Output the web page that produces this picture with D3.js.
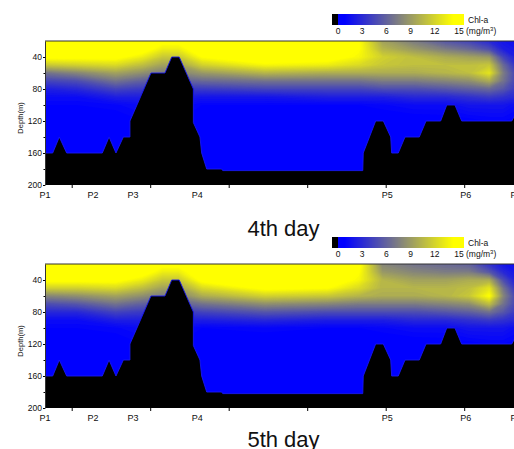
<!DOCTYPE html>
<html lang="en">
    <head>
        <meta charset="utf-8" />
        <title>Chl-a sections</title>
        <script src="https://d3js.org/d3.v7.min.js"></script>
        <style>
            body { margin: 0; background: #fff; }
            svg { display: block; font-family: "Liberation Sans", Arial, sans-serif; }
        </style>
    </head>
    <body>
        <div id="container"></div>
        <script>
            // grid columns (distance along section, km) and rows (depth, m)
            const distKm = [0, 20, 45, 62, 75, 85, 100, 140, 180, 200, 215, 235, 255, 270, 283, 292, 300];
            const depthM = [20, 30, 40, 50, 60, 70, 80, 90, 100, 120, 160, 200];

            // Chl-a (mg/m3), one row per depth
            const chlDay4 = [
                [16, 16, 16, 16, 15, 15, 16, 16, 16, 14.5, 9.5, 7.5, 5.5, 4.5, 3, 2, 1.5],
                [16, 16, 16, 15.5, 13.5, 13.5, 16, 16, 16, 14.5, 10.5, 9, 7.5, 6.5, 5, 2.5, 2],
                [15, 15, 15, 13.5, 11.5, 11.5, 14.5, 16, 15.5, 14, 12, 11, 10, 9.5, 9, 4.5, 2.5],
                [11.5, 12, 12.5, 11, 9.5, 9.5, 12, 14, 13.5, 12.5, 11.5, 11, 11, 11, 11.5, 6.5, 3.5],
                [7, 8, 9.5, 8.5, 7.5, 8, 9, 10.5, 10, 10, 10, 10, 10.5, 11, 13, 7.5, 4.5],
                [4.5, 5, 7, 6, 5.5, 6, 6.5, 7, 7, 7, 7.5, 7.5, 8, 8.5, 10, 7, 4.5],
                [2.5, 3, 4.5, 4, 4, 4, 4, 4.5, 4.5, 4.5, 5, 5, 5.5, 6, 6.5, 5.5, 4],
                [1.5, 1.5, 2.5, 2.5, 2.5, 2.5, 2, 2, 2.5, 2.5, 2.5, 3, 3, 3.5, 4, 3.5, 3],
                [1, 1, 1.2, 1.5, 1.5, 1.5, 1, 1, 1, 1, 1.2, 1.5, 1.5, 2, 2, 2, 1.5],
                [0.5, 0.5, 0.6, 1, 1, 1, 0.5, 0.5, 0.5, 0.5, 0.5, 0.6, 0.7, 0.8, 1, 1, 0.8],
                [0.5, 0.5, 0.5, 0.5, 0.5, 0.5, 0.5, 0.5, 0.5, 0.5, 0.5, 0.5, 0.5, 0.5, 0.5, 0.5, 0.5],
                [0.5, 0.5, 0.5, 0.5, 0.5, 0.5, 0.5, 0.5, 0.5, 0.5, 0.5, 0.5, 0.5, 0.5, 0.5, 0.5, 0.5]
            ];

            const chlDay5 = [
                [16, 16, 16, 16, 15, 15, 16, 16, 16, 15, 8, 7, 6.5, 6, 3.5, 2, 1.5],
                [16, 16, 16, 15.5, 13.5, 13.5, 16, 16, 16, 14.5, 9, 8, 7.5, 7.5, 5.5, 3, 2],
                [15, 15, 15, 13.5, 11.5, 11.5, 15, 16, 16, 14, 10.5, 9.5, 9.5, 10, 10, 5, 2.5],
                [12, 12, 12.5, 11, 9.5, 9.5, 12.5, 15, 14.5, 12.5, 10.5, 10.5, 10.5, 11, 13, 7, 3.5],
                [8, 8.5, 9.5, 8.5, 7.5, 8, 10, 12, 11.5, 10.5, 10, 10, 10.5, 11.5, 14.5, 8, 4.5],
                [5, 5.5, 7, 6, 5.5, 6, 7, 8.5, 8, 7.5, 7.5, 7.5, 8, 8.5, 11, 7, 4.5],
                [3, 3, 4.5, 4, 4, 4, 4.5, 5.5, 5, 5, 5, 5, 5.5, 6, 7, 5.5, 4],
                [1.5, 1.5, 2.5, 2.5, 2.5, 2.5, 2.5, 3, 2.5, 2.5, 2.5, 3, 3, 3.5, 4, 3.5, 3],
                [1, 1, 1.2, 1.5, 1.5, 1.5, 1, 1.2, 1, 1, 1.2, 1.5, 1.5, 2, 2, 2, 1.5],
                [0.5, 0.5, 0.6, 1, 1, 1, 0.5, 0.5, 0.5, 0.5, 0.5, 0.6, 0.7, 0.8, 1, 1, 0.8],
                [0.5, 0.5, 0.5, 0.5, 0.5, 0.5, 0.5, 0.5, 0.5, 0.5, 0.5, 0.5, 0.5, 0.5, 0.5, 0.5, 0.5],
                [0.5, 0.5, 0.5, 0.5, 0.5, 0.5, 0.5, 0.5, 0.5, 0.5, 0.5, 0.5, 0.5, 0.5, 0.5, 0.5, 0.5]
            ];

            // bottom topography along the section
            const floorKm = [0, 4.9, 9.1, 13.8, 36.5, 40.8, 45.2, 49.9, 54.1, 54.1, 67.5, 76.4, 80.7, 85.5, 94.5, 94.5, 98.7, 99.8, 103, 112.5, 113.2,
                             202.4, 202.7, 210.6, 215.5, 220.2, 220.8, 225, 229.3, 238.4, 242.7, 252, 255.9, 261.1, 265.4, 297.3, 300];
            const floorDepth = [160, 160, 140, 160, 160, 140, 160, 140, 140, 120, 60, 60, 40, 40, 80, 122, 140, 160, 180, 180, 182,
                                182, 160, 120, 120, 140, 160, 160, 140, 140, 120, 120, 100, 100, 120, 120, 110];

            const stations = ['P1', 'P2', 'P3', 'P4', 'P5', 'P6', 'P7'];
            const stationKm = [0, 30.5, 56, 97, 218, 268, 300];
            const distTicks = [17, 67, 117, 167, 217, 267];
            const depthTicks = [40, 80, 120, 160, 200];
            const depthMinor = [60, 100, 140, 180];
            const barTicks = [0, 3, 6, 9, 12, 15];

            const width = 514;
            const height = 449;

            const svg = d3.select('#container')
                          .append('svg')
                          .attr('width', width)
                          .attr('height', height);

            const x = d3.scaleLinear().domain([0, 300]).range([45, 516]);

            const blueYellow = d3.scaleLinear()
                                 .domain([0.8, 14.3])
                                 .range(['#0000ff', '#ffff00'])
                                 .clamp(true);
            const colour = v => v < 0 ? '#000' : blueYellow(v);

            const drawPanel = (grid, top, barTop, title, titleY) => {
                const y = d3.scaleLinear().domain([20, 200]).range([top, top + 144]);
                const g = svg.append('g');

                // filled contours of the grid
                const n = distKm.length;
                const m = depthM.length;
                const ix = d3.scaleLinear().domain(d3.range(n)).range(distKm);
                const iy = d3.scaleLinear().domain(d3.range(m)).range(depthM);
                const px = c => x(ix(Math.max(0, Math.min(n - 1, c - 0.5))));
                const py = c => y(iy(Math.max(0, Math.min(m - 1, c - 0.5))));

                const contours = d3.contours()
                                   .size([n, m])
                                   .thresholds(d3.range(0, 16.01, 0.25))(grid.flat());

                g.selectAll('path.band')
                 .data(contours)
                 .enter()
                 .append('path')
                 .attr('class', 'band')
                 .attr('fill', d => colour(d.value))
                 .attr('fill-rule', 'evenodd')
                 .attr('d', d => d.coordinates
                     .map(poly => poly.map(ring => 'M' + ring.map(p => px(p[0]) + ',' + py(p[1])).join('L') + 'Z').join(''))
                     .join(''));

                // sea floor
                const floor = floorKm.map((k, i) => [x(k), y(floorDepth[i])]);
                g.append('path')
                 .attr('fill', '#000')
                 .attr('d', d3.line()(floor.concat([[x(300), y(200)], [x(0), y(200)]])) + 'Z');
                g.append('path')
                 .attr('fill', 'none')
                 .attr('stroke', '#1818f0')
                 .attr('stroke-width', 0.9)
                 .attr('d', d3.line()(floor));

                // frame
                g.append('line')
                 .attr('x1', x(0)).attr('x2', x(300))
                 .attr('y1', top).attr('y2', top)
                 .attr('stroke', '#333');

                const yAxis = g.append('g')
                               .attr('transform', `translate(${x(0)}, 0)`)
                               .call(d3.axisLeft(y).tickValues(depthTicks).tickSize(2).tickSizeOuter(0).tickPadding(1));
                yAxis.select('.domain').attr('stroke', '#333');
                yAxis.selectAll('text').style('font-size', '8.5px').attr('fill', '#111');

                g.append('g')
                 .attr('transform', `translate(${x(0)}, 0)`)
                 .call(d3.axisLeft(y).tickValues(depthMinor).tickSize(1.5).tickSizeOuter(0).tickFormat(''))
                 .select('.domain').remove();

                g.append('g')
                 .attr('transform', `translate(0, ${y(200)})`)
                 .call(d3.axisBottom(x).tickValues(distTicks).tickSize(3).tickSizeOuter(0).tickFormat(''))
                 .select('.domain').remove();

                g.selectAll('text.station')
                 .data(stations)
                 .enter()
                 .append('text')
                 .attr('class', 'station')
                 .attr('x', (d, i) => x(stationKm[i]))
                 .attr('y', y(200) + 12.5)
                 .attr('text-anchor', 'middle')
                 .style('font-size', '9px')
                 .attr('fill', '#111')
                 .text(d => d);

                g.append('text')
                 .attr('transform', `translate(20, ${top + 77}) rotate(-90)`)
                 .attr('text-anchor', 'middle')
                 .attr('dy', '0.35em')
                 .style('font-size', '7.5px')
                 .attr('fill', '#111')
                 .text('Depth(m)');

                // colour bar, one pixel column per step
                const cb = d3.scaleLinear().domain([0, 15]).range([338, 459]);
                const cols = d3.range(Math.round(cb(-0.7)), Math.round(cb(15.6)));
                g.selectAll('rect.cb')
                 .data(cols)
                 .enter()
                 .append('rect')
                 .attr('class', 'cb')
                 .attr('x', d => d)
                 .attr('y', barTop)
                 .attr('width', 1.05)
                 .attr('height', 11)
                 .attr('shape-rendering', 'crispEdges')
                 .attr('fill', d => colour(cb.invert(d + 0.5)));

                g.selectAll('text.cbt')
                 .data(barTicks)
                 .enter()
                 .append('text')
                 .attr('class', 'cbt')
                 .attr('x', d => cb(d))
                 .attr('y', barTop + 20)
                 .attr('text-anchor', 'middle')
                 .style('font-size', '8.5px')
                 .attr('fill', '#111')
                 .text(d => d);

                g.append('text')
                 .attr('x', 468)
                 .attr('y', barTop + 9)
                 .style('font-size', '8.5px')
                 .attr('fill', '#111')
                 .text('Chl-a');

                const unit = g.append('text')
                              .attr('x', 466)
                              .attr('y', barTop + 20)
                              .style('font-size', '8.5px')
                              .attr('fill', '#111');
                unit.append('tspan').text('(mg/m');
                unit.append('tspan').attr('dy', -3).style('font-size', '6px').text('3');
                unit.append('tspan').attr('dy', 3).text(')');

                svg.append('text')
                   .attr('x', 283.5)
                   .attr('y', titleY)
                   .attr('text-anchor', 'middle')
                   .style('font-size', '22px')
                   .attr('fill', '#111')
                   .text(title);
            };

            drawPanel(chlDay4, 41, 14, '4th day', 236);
            drawPanel(chlDay5, 264, 237, '5th day', 447);
        </script>
    </body>
</html>
